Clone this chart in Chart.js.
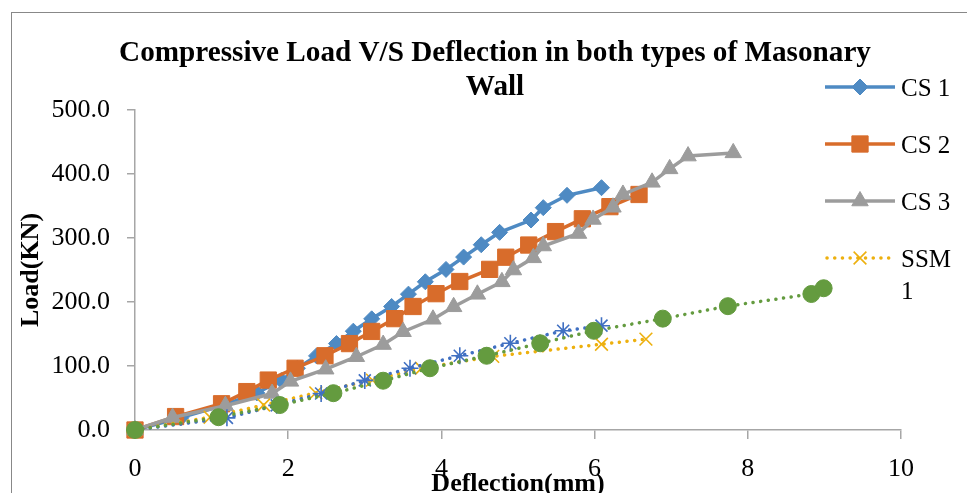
<!DOCTYPE html>
<html>
<head>
<meta charset="utf-8">
<script src="https://cdn.jsdelivr.net/npm/chart.js@4.4.1/dist/chart.umd.min.js"></script>
<style>
  html, body { margin: 0; padding: 0; background: #fff; overflow: hidden; }
  #chart { display: block; }
</style>
</head>
<body>
<canvas id="chart" width="967" height="493"></canvas>
<script>
// values: deflection (mm) and load (KN)
const seriesNames = ['CS 1', 'CS 2', 'CS 3', 'SSM 1', 'SSM 2', 'SSM 3']

const cs1X = [0, 0.6, 1.15, 1.59, 1.91, 2.12, 2.37, 2.63, 2.85, 3.09, 3.35, 3.57, 3.79, 4.06, 4.29, 4.52, 4.76, 5.17, 5.33, 5.64, 6.09]
const cs1Y = [0, 19.3, 38.6, 57.9, 77.2, 96.5, 115.8, 135.1, 154.4, 173.7, 193, 212.3, 231.6, 250.9, 270.2, 289.5, 308.8, 328.1, 347.4, 366.7, 378.6]

const cs2X = [0, 0.53, 1.13, 1.46, 1.74, 2.09, 2.48, 2.8, 3.09, 3.39, 3.63, 3.93, 4.24, 4.63, 4.84, 5.14, 5.49, 5.84, 6.2, 6.58]
const cs2Y = [0, 21, 41, 60, 78, 96.5, 116, 135, 154, 174, 193, 213, 232, 251, 270, 289, 310, 330, 349, 368]

const cs3X = [0, 0.49, 1.18, 1.79, 2.03, 2.49, 2.89, 3.24, 3.5, 3.89, 4.16, 4.47, 4.79, 4.94, 5.2, 5.33, 5.79, 5.98, 6.24, 6.37, 6.75, 6.98, 7.22, 7.81]
const cs3Y = [0, 19.5, 38, 57, 76, 95, 114.5, 133.5, 153.5, 173, 192.5, 212, 231.5, 250, 269, 287.5, 307, 329, 348, 368, 387, 408, 428, 433]

const ssm1X = [0, 0.98, 1.68, 2.36, 3.1, 3.74, 4.67, 6.09, 6.67]
const ssm1Y = [0, 20, 39, 58, 78, 96.5, 115, 134, 142]

const ssm2X = [0, 1.2, 1.85, 2.43, 3.0, 3.59, 4.24, 4.9, 5.59, 6.09]
const ssm2Y = [0, 19, 38.5, 57, 77.5, 96.5, 116, 135.5, 155, 163]

const ssm3X = [0, 1.09, 1.89, 2.59, 3.24, 3.85, 4.59, 5.29, 5.99, 6.89, 7.74, 8.83, 8.99]
const ssm3Y = [0, 20, 39, 57.5, 77, 96.5, 116, 135.5, 155, 174, 193.5, 212.5, 221.5]

const xTicks = [0, 2, 4, 6, 8, 10]
const yTicks = [0, 100, 200, 300, 400, 500]

const titleLines = ['Compressive Load V/S Deflection in both types of Masonary', 'Wall']

const serif = "'Liberation Serif', 'Times New Roman', serif"

function points(xs, ys) {
	return xs.map((x, i) => ({x, y: ys[i]}))
}

function solidSeries(label, data, color, style, radius) {
	return {
		label,
		data,
		showLine: true,
		borderColor: color,
		backgroundColor: color,
		borderWidth: 3.5,
		pointStyle: style,
		pointRadius: radius,
		pointHoverRadius: radius,
		pointBackgroundColor: color,
		pointBorderColor: color,
		pointBorderWidth: 1,
		clip: false
	}
}

function dottedSeries(label, data, color, style, radius, filled) {
	return {
		label,
		data,
		showLine: true,
		borderColor: color,
		backgroundColor: color,
		borderWidth: 3.5,
		borderDash: [0.1, 7.6],
		borderCapStyle: 'round',
		pointStyle: style,
		pointRadius: radius,
		pointHoverRadius: radius,
		pointBackgroundColor: color,
		pointBorderColor: color,
		pointBorderWidth: filled ? 1 : 1.6,
		clip: false
	}
}

const datasets = [
	solidSeries(seriesNames[0], points(cs1X, cs1Y), '#4E8AC3', 'rectRot', 8),
	solidSeries(seriesNames[1], points(cs2X, cs2Y), '#D86C2B', 'rect', 11.5),
	solidSeries(seriesNames[2], points(cs3X, cs3Y), '#9C9C9C', 'triangle', 9.5),
	dottedSeries(seriesNames[3], points(ssm1X, ssm1Y), '#EDB00E', 'crossRot', 9, false),
	dottedSeries(seriesNames[4], points(ssm2X, ssm2Y), '#4070C2', 'star', 8.5, false),
	dottedSeries(seriesNames[5], points(ssm3X, ssm3Y), '#649B3F', 'circle', 8.5, true)
]
// later series sit on top, like in the original
datasets.forEach((d, i) => d.order = datasets.length - i)

// outer frame, title and the (clipped) legend on the right
const decorations = {
	id: 'decorations',
	beforeDraw(chart) {
		const ctx = chart.ctx
		ctx.save()
		ctx.fillStyle = '#fff'
		ctx.fillRect(0, 0, chart.width, chart.height)
		ctx.strokeStyle = '#888'
		ctx.lineWidth = 1
		ctx.strokeRect(11.5, 12.5, 2000, 2000)
		ctx.restore()
	},
	afterDraw(chart) {
		const ctx = chart.ctx
		ctx.save()
		ctx.fillStyle = '#000'
		ctx.textAlign = 'center'
		ctx.textBaseline = 'alphabetic'
		ctx.font = 'bold 29.2px ' + serif
		ctx.fillText(titleLines[0], 495, 61)
		ctx.fillText(titleLines[1], 495, 95)

		// legend: only the first four entries fit in the frame
		const rows = [87, 144, 201, 258]
		ctx.font = '25px ' + serif
		ctx.textAlign = 'left'
		for (let i = 0; i < rows.length; i++) {
			const ds = chart.data.datasets[i]
			const y = rows[i]
			ctx.save()
			ctx.strokeStyle = ds.borderColor
			ctx.lineWidth = ds.borderWidth
			ctx.lineCap = ds.borderCapStyle || 'butt'
			ctx.setLineDash(ds.borderDash || [])
			ctx.beginPath()
			ctx.moveTo(ds.borderDash ? 827 : 825, y)
			ctx.lineTo(895, y)
			ctx.stroke()
			ctx.restore()
			ctx.save()
			ctx.fillStyle = ds.pointBackgroundColor
			ctx.strokeStyle = ds.pointBorderColor
			ctx.lineWidth = ds.pointBorderWidth
			Chart.helpers.drawPoint(ctx, {
				pointStyle: ds.pointStyle,
				radius: ds.pointRadius,
				rotation: 0,
				borderWidth: ds.pointBorderWidth
			}, 860, y)
			ctx.restore()
			ctx.fillStyle = '#000'
			const words = ds.label.split(' ')
			if (ds.label.length > 4) {
				ctx.fillText(words[0], 901, y + 9)
				ctx.fillText(words[1], 901, y + 41)
			} else {
				ctx.fillText(ds.label, 901, y + 9)
			}
		}
		ctx.restore()
	}
}

new Chart(document.getElementById('chart'), {
	type: 'scatter',
	data: { datasets },
	plugins: [decorations],
	options: {
		responsive: false,
		animation: false,
		events: [],
		layout: {
			padding: { left: 0, right: 66, top: 110, bottom: 0 }
		},
		plugins: {
			legend: { display: false },
			title: { display: false },
			tooltip: { enabled: false }
		},
		scales: {
			x: {
				type: 'linear',
				min: 0,
				max: 10,
				afterBuildTicks: scale => { scale.ticks = xTicks.map(v => ({value: v})) },
				afterFit: scale => { scale.height = 63 },
				grid: {
					drawOnChartArea: false,
					drawTicks: true,
					tickLength: 9,
					color: '#A6A6A6',
					lineWidth: 1.5
				},
				border: { color: '#A6A6A6', width: 1.5 },
				ticks: {
					color: '#000',
					padding: 15,
					maxRotation: 0,
					font: { family: serif, size: 26 }
				},
				title: {
					display: true,
					text: 'Deflection(mm)',
					color: '#000',
					padding: 0,
					font: { family: serif, size: 26, weight: 'bold', lineHeight: 0.7 }
				}
			},
			y: {
				type: 'linear',
				min: 0,
				max: 500,
				afterBuildTicks: scale => { scale.ticks = yTicks.map(v => ({value: v})) },
				afterFit: scale => { scale.width = 135 },
				grid: {
					drawOnChartArea: false,
					drawTicks: true,
					tickLength: 8,
					color: '#A6A6A6',
					lineWidth: 1.5
				},
				border: { color: '#A6A6A6', width: 1.5 },
				ticks: {
					color: '#000',
					padding: 17,
					font: { family: serif, size: 26 },
					callback: v => v.toFixed(1)
				},
				title: {
					display: true,
					text: 'Load(KN)',
					color: '#000',
					padding: { top: 16, bottom: 0 },
					font: { family: serif, size: 26, weight: 'bold' }
				}
			}
		}
	}
})
</script>
</body>
</html>
